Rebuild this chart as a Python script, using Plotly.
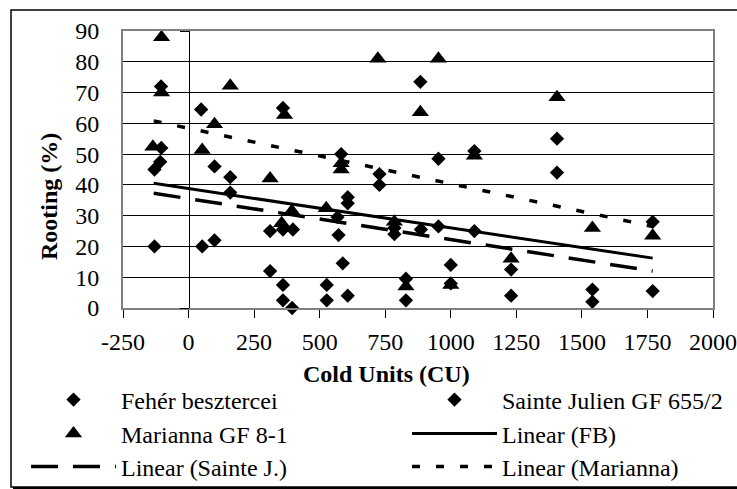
import plotly.graph_objects as go

# ---------------- data ----------------
fb_cu = [-130, -105, 48, 99, 159, 311, 360, 398, 527, 568, 582, 607, 728, 785, 829, 884, 953, 1000, 1090, 1230, 1405, 1540, 1770, -108, 360]
fb_root = [45, 72, 64.5, 46, 42.5, 25, 65, 25.5, 7.5, 29.5, 50, 36, 43.5, 26, 9.5, 73.5, 26.5, 14, 25, 12.5, 44, 6, 5.5, 47.5, 7.5]

sj_cu = [-130, -104, 52, 99, 159, 311, 360, 395, 527, 572, 588, 607, 607, 728, 785, 829, 886, 953, 1000, 1090, 1230, 1405, 1540, 1770, 360]
sj_root = [20, 52, 20, 22, 37.5, 12, 25.5, 0, 2.5, 23.7, 14.5, 34, 4, 40, 24, 2.5, 25.5, 48.5, 8, 51, 4, 55, 2, 28, 2.5]

mar_cu = [-136, -103, -103, 52, 99, 159, 311, 366, 355, 394, 525, 582, 582, 722, 785, 829, 884, 953, 1000, 1090, 1230, 1405, 1540, 1770]
mar_root = [52.4, 88, 70, 51.3, 59.7, 72.2, 42.1, 62.7, 27.5, 31.5, 32.4, 47, 45, 81, 28, 7, 63.6, 81, 7.5, 49.5, 16, 68.5, 26, 23.5]

trend_cu = [-133, 1770]
fb_trend = [40.5, 16.2]
sj_trend = [37.3, 12.0]
mar_trend = [60.8, 26.5]

x_ticks = [-250, 0, 250, 500, 750, 1000, 1250, 1500, 1750, 2000]
y_ticks = [0, 10, 20, 30, 40, 50, 60, 70, 80, 90]

# ---------------- geometry helpers (pixel -> paper) ----------------
W, H = 737, 489
L, R, T, B = 123, 713, 31, 308
def px(x):
    return (x - L) / (R - L)
def py(y):
    return (B - y) / (B - T)

FONT = "Liberation Serif"
fs_tick = 24
fs_leg = 24
fs_title = 24

fig = go.Figure()

mk = dict(color="black", line=dict(width=0))
fig.add_trace(go.Scatter(x=fb_cu, y=fb_root, mode="markers", name="Fehér besztercei",
                         marker=dict(symbol="diamond", size=11, **mk), cliponaxis=False, legend="legend"))
fig.add_trace(go.Scatter(x=sj_cu, y=sj_root, mode="markers", name="Sainte Julien GF 655/2",
                         marker=dict(symbol="diamond", size=11, **mk), cliponaxis=False, legend="legend2"))
fig.add_trace(go.Scatter(x=mar_cu, y=mar_root, mode="markers", name="Marianna GF 8-1",
                         marker=dict(symbol="triangle-up", size=15, **mk), cliponaxis=False, legend="legend3"))
fig.add_trace(go.Scatter(x=trend_cu, y=fb_trend, mode="lines", name="Linear (FB)",
                         line=dict(color="black", width=3), legend="legend4"))
fig.add_trace(go.Scatter(x=trend_cu, y=sj_trend, mode="lines", name="Linear (Sainte J.)",
                         line=dict(color="black", width=3.5, dash="27px,15px"), legend="legend5"))
fig.add_trace(go.Scatter(x=trend_cu, y=mar_trend, mode="lines", name="Linear (Marianna)",
                         line=dict(color="black", width=3.5, dash="8px,16px"), legend="legend6",
                         yaxis="y2"))

legfont = dict(family=FONT, size=fs_leg, color="black")
def leg(xp, yp):
    return dict(x=px(xp), y=py(yp), xanchor="left", yanchor="middle", orientation="h",
                font=legfont, bgcolor="rgba(0,0,0,0)", borderwidth=0, itemwidth=85,
                visible=True)

rows = [400, 434, 467]
c1, c2 = 26, 407

fig.update_layout(
    width=W, height=H,
    margin=dict(l=L, r=W - R, t=T, b=H - B, autoexpand=False),
    paper_bgcolor="white", plot_bgcolor="white",
    font=dict(family=FONT, size=fs_tick, color="black"),
    showlegend=True,
    legend=leg(c1, rows[0]),
    legend2=leg(c2, rows[0]),
    legend3=leg(c1, rows[1]),
    legend4=leg(c2, rows[1]),
    legend5=leg(c1, rows[2]),
    legend6=leg(c2, rows[2]),
    xaxis=dict(range=[-250, 2000], tickvals=x_ticks, ticktext=[str(v) for v in x_ticks],
               showgrid=False, zeroline=False, showline=True, linecolor="#808080", linewidth=2,
               mirror=True, ticks="outside", ticklen=8, tickcolor="black", tickwidth=1,
               ticklabelstandoff=3, tickfont=dict(family=FONT, size=fs_tick), automargin=False),
    yaxis=dict(range=[0, 90], tickvals=y_ticks, showgrid=True, gridcolor="black", gridwidth=1,
               zeroline=False, showline=True, linecolor="#808080", linewidth=2, mirror=True,
               ticks="", ticklabelstandoff=17, tickfont=dict(family=FONT, size=fs_tick), automargin=False),
    yaxis2=dict(range=[0, 90], overlaying="y", anchor="free", position=250 / 2250,
                tickvals=y_ticks, showticklabels=False, showgrid=False, zeroline=False,
                showline=True, linecolor="black", linewidth=1, ticks="outside", ticklen=9,
                tickcolor="black"),
    annotations=[
        dict(text="<b>Cold Units (CU)</b>", x=px(386), y=py(374), xref="paper", yref="paper",
             showarrow=False, xanchor="center", yanchor="middle",
             font=dict(family=FONT, size=fs_title, color="black")),
        dict(text="<b>Rooting (%)</b>", x=px(49), y=py(197), xref="paper", yref="paper",
             showarrow=False, xanchor="center", yanchor="middle", textangle=-90,
             font=dict(family=FONT, size=fs_title, color="black")),
    ],
    shapes=[
        dict(type="rect", xref="paper", yref="paper", x0=px(11), x1=px(760), y0=py(487), y1=py(10),
             line=dict(color="black", width=1.5), layer="below"),
        dict(type="line", xref="paper", yref="paper", x0=px(13), x1=px(760), y0=py(488.5), y1=py(488.5),
             line=dict(color="black", width=3)),
    ],
)

fig.write_html("out.html")
